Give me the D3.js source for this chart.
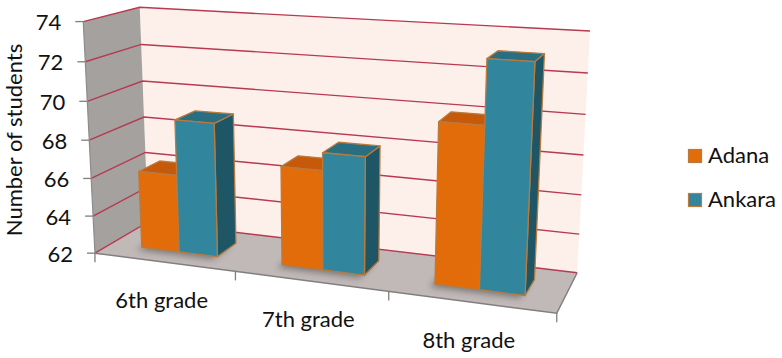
<!DOCTYPE html>
<html><head><meta charset="utf-8">
<script src="https://cdn.jsdelivr.net/npm/d3@7"></script>
<style>body{margin:0;background:#fff}svg{display:block}</style>
</head><body>
<svg id="chart" width="782" height="358"></svg>
<script>
// ---- data ----
const categories = ["6th grade", "7th grade", "8th grade"];
const seriesNames = ["Adana", "Ankara"];
const adana = [66.1, 67.1, 70.0];
const ankara = [69.0, 68.0, 73.1];
const yTicks = [62, 64, 66, 68, 70, 72, 74];

// ---- styles ----
const faceColors = {
  Adana: {front: "#e36c0a", top: "#c65a0a", side: "#a84d08"},
  Ankara: {front: "#31859c", top: "#2a6e81", side: "#1f5666"}
};
const barStroke = "#b97a3e";
const gridColor = "#b63a50";
const font = "Lato, 'Open Sans', sans-serif";

// ---- view (perspective frame) ----
// world: u along categories [0,1], h along value [0,1], w depth [0,1]
const viewAnchors = [
  [[0,0,0],[95,253]], [[0,1,0],[83,22]], [[1,0,0],[557,313]],
  [[0,0,1],[148,222]], [[0,1,1],[140,7]], [[1,1,1],[590,31]], [[1,0,1],[577,273]]
];
function lstsq(A, b) {
  const n = A[0].length;
  const M = d3.range(n).map(i => {
    const row = new Array(n + 1).fill(0);
    for (let j = 0; j < n; j++) for (let k = 0; k < A.length; k++) row[j] += A[k][i] * A[k][j];
    for (let k = 0; k < A.length; k++) row[n] += A[k][i] * b[k];
    return row;
  });
  for (let c = 0; c < n; c++) {
    let p = c;
    for (let r = c + 1; r < n; r++) if (Math.abs(M[r][c]) > Math.abs(M[p][c])) p = r;
    [M[c], M[p]] = [M[p], M[c]];
    for (let r = 0; r < n; r++) if (r !== c) {
      const f = M[r][c] / M[c][c];
      for (let k = c; k <= n; k++) M[r][k] -= f * M[c][k];
    }
  }
  return M.map((row, i) => row[n] / row[i]);
}
const cam = (() => {
  const A = [], b = [];
  viewAnchors.forEach(([[X,Y,Z],[x,y]]) => {
    A.push([X,Y,Z,1,0,0,0,0,-x*X,-x*Y,-x*Z]); b.push(x);
    A.push([0,0,0,0,X,Y,Z,1,-y*X,-y*Y,-y*Z]); b.push(y);
  });
  return lstsq(A, b);
})();
function P(u, h, w) {
  const d = cam[8]*u + cam[9]*h + cam[10]*w + 1;
  return [(cam[0]*u + cam[1]*h + cam[2]*w + cam[3]) / d,
          (cam[4]*u + cam[5]*h + cam[6]*w + cam[7]) / d];
}

// ---- scales ----
const x = d3.scaleBand().domain(categories).range([0, 1]).paddingInner(0.45).paddingOuter(0.225);
const xs = d3.scaleBand().domain(seriesNames).range([0, x.bandwidth()]);
const y = d3.scaleLinear().domain([62, 74]).range([0, 1]);
const depth = [0.3, 0.7];

const svg = d3.select("#chart");
const line = d3.line();
const poly = pts => line(pts) + "Z";

const defs = svg.append("defs");
defs.append("filter").attr("id", "blur").attr("x", "-50%").attr("y", "-50%").attr("width", "200%").attr("height", "200%")
  .append("feGaussianBlur").attr("stdDeviation", 3);

// walls
svg.append("path").attr("d", poly([P(0,0,1),P(1,0,1),P(1,1,1),P(0,1,1)])).attr("fill", "#fdf0eb");
svg.append("path").attr("d", poly([P(0,0,0),P(0,1,0),P(0,1,1),P(0,0,1)])).attr("fill", "#a5a19f");
svg.append("path").attr("d", poly([P(0,0,0),P(1,0,0),P(1,0,1),P(0,0,1)])).attr("fill", "#c1b9b8");

// gridlines (back wall + side wall)
const g = svg.append("g").attr("stroke", gridColor).attr("stroke-width", 1.4).attr("fill", "none");
yTicks.forEach(t => {
  const h = y(t);
  g.append("path").attr("d", line([P(0,h,0), P(0,h,1), P(1,h,1)]));
});

// axis edges
svg.append("path").attr("d", line([P(0,1,0), P(0,0,0)])).attr("stroke", "#8c8c8c").attr("stroke-width", 1.2).attr("fill", "none");
svg.append("path").attr("d", line([P(0,0,0), P(1,0,0), P(1,0,1)])).attr("stroke", "#7f7f7f").attr("stroke-width", 1.5).attr("fill", "none");

// y ticks + labels
yTicks.forEach(t => {
  const [px, py] = P(0, y(t), 0);
  svg.append("line").attr("x1", px - 8).attr("x2", px).attr("y1", py).attr("y2", py)
    .attr("stroke", "#7f7f7f").attr("stroke-width", 1.3);
  svg.append("text").attr("x", px - 22).attr("y", py).attr("text-anchor", "end")
    .attr("dominant-baseline", "central").attr("font-family", font).attr("font-size", 22)
    .attr("fill", "#111").text(t);
});

// x ticks + labels
const bounds = categories.map(c => x(c) - x.step() * x.paddingInner() / 2).concat([1]);
bounds.forEach(u => {
  const [px, py] = P(u, 0, 0);
  svg.append("line").attr("x1", px).attr("x2", px).attr("y1", py).attr("y2", py + 9)
    .attr("stroke", "#7f7f7f").attr("stroke-width", 1.3);
});
categories.forEach(c => {
  const [px, py] = P(x(c) + x.bandwidth() / 2, 0, 0);
  svg.append("text").attr("x", px - 2).attr("y", py + 46).attr("text-anchor", "middle")
    .attr("font-family", font).attr("font-size", 22).attr("fill", "#111").text(c);
});

// bars
const bars = [];
categories.forEach((c, i) => {
  seriesNames.forEach((s, j) => {
    const v = (s === "Adana" ? adana : ankara)[i];
    bars.push({c, s, v, u0: x(c) + xs(s), u1: x(c) + xs(s) + xs.bandwidth()});
  });
});
// shadows
const sh = svg.append("g").attr("filter", "url(#blur)").attr("opacity", 0.45);
bars.forEach(b => {
  const pts = [P(b.u0,0,depth[0]),P(b.u1,0,depth[0]),P(b.u1,0,depth[1]),P(b.u0,0,depth[1])].map(([a, d]) => [a - 5, d + 3]);
  sh.append("path").attr("d", poly(pts)).attr("fill", "#333");
});
const bg = svg.append("g").attr("stroke", barStroke).attr("stroke-width", 1.3).attr("stroke-linejoin", "round");
bars.forEach(b => {
  const h = y(b.v), [w0, w1] = depth;
  const col = faceColors[b.s];
  bg.append("path").attr("fill", col.side)
    .attr("d", poly([P(b.u1,0,w0),P(b.u1,0,w1),P(b.u1,h,w1),P(b.u1,h,w0)]));
  bg.append("path").attr("fill", col.top)
    .attr("d", poly([P(b.u0,h,w0),P(b.u1,h,w0),P(b.u1,h,w1),P(b.u0,h,w1)]));
  bg.append("path").attr("fill", col.front)
    .attr("d", poly([P(b.u0,0,w0),P(b.u1,0,w0),P(b.u1,h,w0),P(b.u0,h,w0)]));
});

// y title
svg.append("text").attr("transform", "translate(22,140) rotate(-90)").attr("text-anchor", "middle")
  .attr("font-family", font).attr("font-size", 22).attr("fill", "#111").text("Number of students");

// legend
const legendY = [149, 193];
seriesNames.forEach((s, i) => {
  svg.append("rect").attr("x", 688.5).attr("y", legendY[i] + 0.5).attr("width", 13).attr("height", 13)
    .attr("fill", faceColors[s].front).attr("stroke", barStroke).attr("stroke-width", 1.2);
  svg.append("text").attr("x", 708).attr("y", legendY[i] + 14).attr("font-family", font)
    .attr("font-size", 22).attr("fill", "#111").text(s);
});
</script>
</body></html>
